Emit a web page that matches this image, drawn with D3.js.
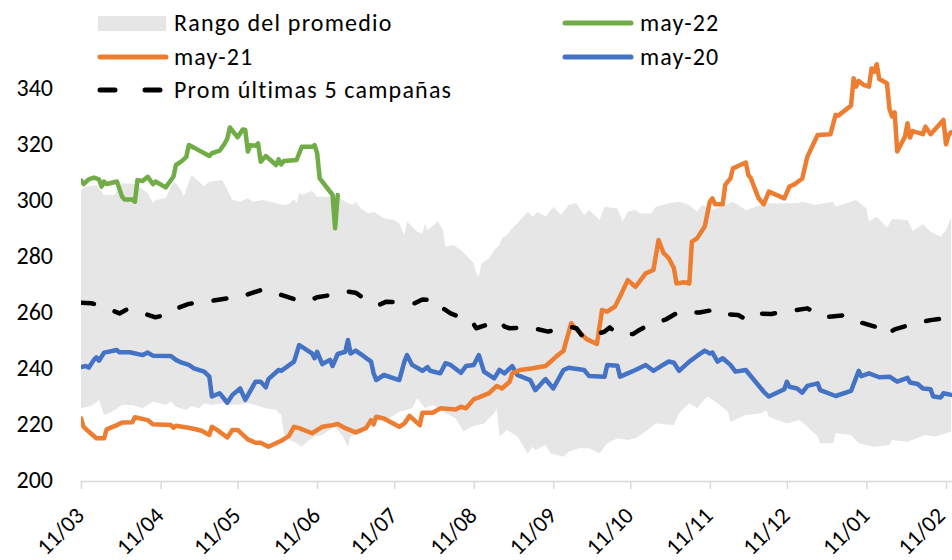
<!DOCTYPE html>
<html>
<head>
<meta charset="utf-8">
<script src="https://cdn.jsdelivr.net/npm/d3@7/dist/d3.min.js"></script>
<style>
body { margin: 0; background: #fff; }
svg text { font-family: Carlito, Calibri, Lato, "Open Sans", sans-serif; fill: #000; }
</style>
</head>
<body>
<svg id="chart" width="952" height="560"></svg>
<script>
// campaign starts 11/03, days are counted from that date
var startDate = "2022-03-11";
var tickLabels = ["11/03", "11/04", "11/05", "11/06", "11/07", "11/08", "11/09", "11/10", "11/11", "11/12", "11/01", "11/02"];
var yTicks = [200, 220, 240, 260, 280, 300, 320, 340];

// Rango del promedio (upper / lower edge of the grey band)
var bandUpDays = [0, 2, 6, 9, 13, 16, 21, 23, 26, 28, 29, 33, 36, 37, 39, 40, 43, 46, 48, 50, 55, 57, 59, 62, 65, 67, 71, 76, 79, 81, 83, 84, 85, 86, 90, 92, 100, 102, 104, 106, 107, 109, 112, 114, 118, 122, 124, 126, 127, 131, 133, 134, 135, 139, 141, 142, 145, 148, 150, 153, 154, 155, 156, 159, 161, 163, 164, 166, 168, 170, 174, 176, 178, 181, 183, 184, 187, 190, 193, 196, 198, 202, 204, 209, 211, 213, 216, 218, 222, 224, 229, 233, 237, 240, 242, 246, 254, 259, 265, 268, 279, 281, 286, 293, 294, 302, 306, 307, 310, 314, 316, 322, 324, 328, 331, 335, 337, 339];
var bandUp = [303.6, 304.8, 305.4, 301.8, 301.8, 306, 305.7, 304.5, 302.4, 298.8, 300, 300.6, 306.5, 306, 303.6, 301.2, 308.9, 306.5, 304.8, 306.5, 307.1, 303.6, 300, 299.4, 300.6, 299.4, 300, 298.8, 298.2, 298.6, 300.2, 298.8, 302.6, 301.8, 303.3, 301.2, 301.2, 300, 298.8, 298.2, 299.4, 297, 295.2, 295.8, 293.5, 292.9, 291.7, 287.5, 292.3, 288.7, 288.1, 291.4, 289.3, 292.3, 289.3, 283.3, 283.9, 282.1, 280.4, 277.4, 273.8, 272.6, 277.4, 279.2, 282.1, 283.9, 286.3, 287.5, 289.9, 291.7, 295.8, 294, 295.8, 294, 296.4, 297.6, 294.6, 298.2, 298.8, 294.6, 296.4, 292.9, 297.6, 297, 292.3, 295.8, 296.4, 295.2, 295.2, 297.6, 298.8, 299.4, 298.2, 295.8, 298.2, 296.4, 299.4, 296.4, 298.2, 298.8, 298.8, 299.4, 298.2, 299.4, 297.6, 300, 297, 292.3, 294, 290.2, 293.2, 292.9, 288.9, 291.4, 288.7, 286.9, 289.3, 293.6];
var bandLowDays = [0, 4, 7, 9, 12, 16, 20, 24, 28, 33, 35, 37, 41, 43, 46, 48, 51, 55, 60, 65, 68, 72, 76, 78, 79, 81, 83, 86, 89, 91, 94, 96, 99, 102, 104, 105, 109, 112, 115, 118, 124, 129, 131, 134, 137, 142, 146, 149, 152, 157, 161, 162, 163, 166, 170, 174, 176, 177, 181, 183, 188, 190, 194, 198, 202, 205, 209, 213, 216, 219, 224, 231, 233, 237, 240, 244, 248, 252, 253, 259, 265, 267, 268, 275, 280, 283, 287, 288, 293, 294, 300, 303, 309, 315, 316, 322, 329, 333, 337, 339];
var bandLow = [225.6, 226.4, 228.6, 223.2, 224.4, 226.8, 226.8, 225.6, 228, 226.8, 228, 226.2, 225, 226.4, 225.6, 227.4, 226.8, 227.4, 226.8, 227.4, 226.8, 225.6, 225, 223.2, 216.7, 214.3, 213.7, 211.9, 214.3, 215.5, 216.1, 217.3, 219, 215.5, 211.9, 215.5, 216.7, 219, 221.4, 220.8, 224.4, 225.6, 229.2, 225.6, 226.8, 223.8, 222, 217.3, 219, 220.2, 223.8, 225.6, 215.5, 217.9, 215.5, 209.5, 211.9, 210.7, 212.5, 209.5, 208.3, 210.1, 211.3, 211.3, 209.5, 213.1, 214.9, 214.3, 214.9, 216.7, 220.2, 219.6, 223.8, 227.4, 225.6, 229.8, 227.4, 224.4, 220.8, 223.2, 223.8, 225, 222.6, 220.2, 221.4, 219, 215.5, 213.1, 213.1, 216.7, 216.1, 213.1, 211.9, 212.5, 214.3, 213.7, 216.1, 215.5, 216.7, 217.3];

// may-22
var greenDays = [0, 1, 3, 5, 7, 8, 9, 10, 14, 16, 17, 20, 21, 22, 24, 26, 28, 29, 33, 36, 37, 39, 41, 42, 44, 50, 51, 54, 56, 57, 58, 61, 63, 64, 65, 66, 68, 69, 70, 72, 76, 77, 78, 79, 84, 86, 90, 91, 92, 93, 96, 98, 99, 100];
var greenVals = [307, 305.7, 307.4, 308, 307.4, 304.8, 306.6, 305.7, 306.6, 301.2, 300.2, 300.2, 299.4, 307.1, 306.8, 308.3, 305.7, 306.6, 304.5, 308.3, 312.5, 313.7, 315.3, 319.6, 318.7, 315.7, 316.7, 317.6, 320.2, 322, 325.9, 322.4, 325.2, 325, 317.3, 319.6, 319.4, 320.2, 313.7, 315.7, 312.5, 314.5, 312.7, 313.9, 314.3, 319, 319, 319.6, 316.7, 307.7, 304.2, 301.8, 289.9, 301.8];

// may-21
var orangeDays = [0, 1, 3, 6, 9, 10, 14, 16, 20, 21, 26, 28, 35, 36, 37, 43, 47, 50, 51, 53, 57, 59, 61, 65, 68, 70, 73, 78, 81, 83, 85, 90, 94, 98, 100, 103, 107, 111, 113, 114, 115, 118, 124, 126, 128, 132, 133, 137, 140, 146, 148, 150, 153, 155, 159, 162, 164, 167, 168, 171, 176, 181, 183, 185, 188, 191, 192, 194, 197, 201, 203, 205, 208, 210, 213, 216, 220, 223, 225, 227, 229, 231, 232, 235, 237, 238, 240, 243, 245, 246, 247, 250, 251, 253, 254, 259, 260, 261, 264, 266, 268, 274, 276, 278, 281, 283, 285, 287, 292, 294, 295, 300, 301, 302, 303, 305, 307, 308, 309, 310, 311, 314, 315, 316, 317, 318, 321, 322, 323, 324, 328, 329, 331, 336, 337, 338, 339];
var orangeVals = [222, 219, 217.3, 214.9, 214.9, 218.1, 219.6, 220.5, 220.6, 222.4, 221.4, 219.9, 219.6, 218.7, 219.4, 218.5, 217.6, 216.1, 219, 217.9, 215.2, 217.9, 217.9, 214.5, 213.3, 213.3, 211.9, 214, 215.8, 219, 218.5, 216.7, 219, 219.6, 220, 218.5, 217, 218.5, 221.4, 219.9, 222.6, 222, 219, 220.2, 222.9, 219.6, 224, 224, 225.6, 225.2, 226.2, 225.6, 228.8, 229.5, 231, 233.6, 232.7, 235.1, 238.1, 239.3, 239.9, 240.7, 242.3, 244, 246.2, 256, 254.8, 253, 250.3, 248.6, 260.7, 260.1, 261.9, 265.5, 271.4, 269, 273.8, 275, 285.7, 281, 279.2, 275.6, 270.2, 270.6, 270.2, 285.1, 286.3, 290.5, 299.4, 300.6, 298.5, 298.5, 305.4, 307.7, 311.3, 313.4, 308.9, 307.7, 300.6, 298.5, 303, 300.6, 304.8, 305.6, 307.7, 315.5, 319.4, 323.2, 323.5, 330.4, 330.1, 333.7, 343.5, 340.5, 342.5, 341.1, 340.5, 347, 345.8, 348.5, 343.2, 341.7, 332.5, 329.8, 331.3, 317.3, 322.6, 327.4, 322.3, 324.6, 323.5, 326.2, 323.5, 328.6, 319.9, 323.2, 324.2];

// may-20
var blueDays = [0, 2, 3, 5, 6, 7, 9, 14, 15, 19, 24, 26, 28, 35, 37, 39, 42, 44, 48, 50, 51, 54, 57, 59, 62, 64, 68, 70, 72, 73, 77, 78, 83, 85, 87, 90, 91, 92, 94, 97, 98, 100, 103, 104, 105, 107, 110, 113, 114, 115, 118, 124, 126, 127, 129, 133, 135, 136, 140, 142, 144, 148, 150, 153, 155, 157, 161, 163, 165, 168, 170, 175, 177, 180, 181, 184, 188, 190, 196, 198, 204, 205, 209, 210, 213, 216, 220, 223, 226, 229, 231, 233, 237, 240, 243, 245, 246, 248, 250, 253, 255, 259, 266, 268, 274, 275, 276, 279, 281, 283, 287, 288, 294, 300, 303, 304, 307, 311, 315, 318, 322, 323, 326, 328, 331, 332, 335, 336, 339];
var blueVals = [240.3, 240.7, 240.1, 242.9, 243.8, 242.6, 245.5, 246.4, 245.6, 245.6, 244.6, 245.5, 244.4, 244.3, 242.9, 242, 241.1, 239.9, 238.7, 236.9, 229.8, 231, 227.6, 230.4, 232.7, 228.6, 235.1, 235.1, 233.1, 236, 239.3, 239, 242.3, 248.2, 247, 245.2, 243.5, 245.8, 241.4, 242.9, 240.7, 245, 245.8, 250, 245.2, 246.2, 244.3, 242.3, 238.1, 235.7, 237.5, 235.7, 242.3, 244.6, 241.1, 239, 240.3, 239, 238.1, 241.7, 241.1, 238.3, 240.7, 241.1, 244.6, 238.7, 236.3, 239.3, 238.1, 240.7, 237.5, 235.7, 232.1, 235.1, 236, 232.7, 239.3, 240.1, 239.3, 237.1, 236.9, 241.1, 240.8, 236.9, 238.1, 239.3, 241.1, 239, 240.7, 242.3, 241.9, 239, 242.3, 244.3, 246.2, 245.2, 245.5, 242.3, 243.5, 241.1, 238.7, 239.3, 231.5, 229.8, 232.4, 235.1, 233.3, 232.7, 231.2, 233.6, 234.5, 232.1, 230, 231.8, 239, 237.1, 238.1, 236.7, 236.9, 235.1, 236.5, 234.8, 234.3, 232.7, 232.4, 229.8, 229.5, 231, 230.4];

// Prom últimas 5 campañas
var avgDays = [0, 4, 7, 15, 18, 21, 29, 33, 35, 42, 45, 49, 57, 59, 63, 71, 74, 78, 85, 89, 92, 100, 104, 107, 113, 116, 119, 126, 130, 133, 139, 141, 144, 149, 152, 154, 163, 165, 167, 175, 182, 190, 193, 196, 204, 206, 209, 215, 217, 220, 228, 233, 241, 246, 248, 256, 259, 262, 269, 274, 283, 289, 298, 304, 313, 314, 317, 325, 331, 339];
var avgVals = [263.3, 263.1, 262.5, 259.5, 261, 260.5, 258.1, 258.9, 260.5, 262.9, 263.3, 263.7, 264.9, 265.5, 265.7, 268.1, 267.3, 266.1, 264, 264, 265.3, 266.4, 267.3, 266.9, 263.1, 262.5, 263.7, 263.3, 263.1, 264.5, 264, 261.3, 259.5, 257.7, 257.1, 254.2, 256.9, 254.8, 254.2, 254.5, 253, 254.8, 254.2, 250.6, 253, 254.5, 252.1, 252.1, 253.3, 254.8, 257.4, 260.1, 259.8, 260.7, 259.5, 258.9, 257.4, 259.5, 259.3, 260.1, 261.3, 258.1, 258.9, 256.2, 253.8, 252.1, 253.8, 256, 257.1, 258];

var svg = d3.select("#chart");
var parse = d3.timeParse("%Y-%m-%d");
var start = parse(startDate);
var toDate = function (d) { return d3.timeDay.offset(start, d); };

// tick dates: months before march belong to the next year
var tickDates = tickLabels.map(function (t) {
    var p = t.split("/");
    var m = +p[1];
    return new Date(m >= 3 ? 2022 : 2023, m - 1, +p[0]);
});

var x = d3.scaleTime()
    .domain([tickDates[0], tickDates[tickDates.length - 1]])
    .range([81, 946]);
var y = d3.scaleLinear()
    .domain([200, 340])
    .range([480, 88]);

svg.append("clipPath").attr("id", "plotClip")
  .append("rect").attr("x", 81).attr("y", 0).attr("width", 871).attr("height", 481);

var plot = svg.append("g").attr("clip-path", "url(#plotClip)");

function pairs(days, vals) {
    return days.map(function (d, i) { return { date: toDate(d), v: vals[i] }; });
}

var line = d3.line()
    .x(function (d) { return x(d.date); })
    .y(function (d) { return y(d.v); });

// grey band: upper edge forward, lower edge back
var bandPts = pairs(bandUpDays, bandUp).concat(pairs(bandLowDays, bandLow).reverse());
plot.append("path")
    .attr("d", line(bandPts) + "Z")
    .attr("fill", "#e6e6e6");

var series = [
    { days: blueDays, vals: blueVals, color: "#4472c4" },
    { days: orangeDays, vals: orangeVals, color: "#ed7d31" },
    { days: greenDays, vals: greenVals, color: "#70ad47" }
];
series.forEach(function (s) {
    plot.append("path")
        .attr("d", line(pairs(s.days, s.vals)))
        .attr("fill", "none")
        .attr("stroke", s.color)
        .attr("stroke-width", 4.5)
        .attr("stroke-linejoin", "round")
        .attr("stroke-linecap", "round");
});

plot.append("path")
    .attr("d", line(pairs(avgDays, avgVals)))
    .attr("fill", "none")
    .attr("stroke", "#000")
    .attr("stroke-width", 4.5)
    .attr("stroke-dasharray", "13,22")
    .attr("stroke-linejoin", "round")
    .attr("stroke-linecap", "round");

// x axis
var xAxis = svg.append("g")
    .attr("transform", "translate(0,481)")
    .call(d3.axisBottom(x).tickValues(tickDates).tickSize(8)
        .tickFormat(function (d, i) { return tickLabels[i]; }));
xAxis.select(".domain").attr("stroke", "#d9d9d9").attr("stroke-width", 1.5).attr("d", "M81,0.5H952");
xAxis.selectAll(".tick line").attr("stroke", "#d9d9d9").attr("stroke-width", 1.5);
xAxis.selectAll(".tick text")
    .attr("font-size", 23)
    .attr("text-anchor", "end")
    .attr("dy", 0)
    .attr("y", 0)
    // last label sits at the right edge, nudge it in a little
    .attr("transform", function (d, i) {
        return (i === tickLabels.length - 1 ? "translate(0,36)" : "translate(4,36)") + " rotate(-45)";
    });

// y labels
svg.append("g").selectAll("text")
    .data(yTicks)
    .join("text")
    .attr("x", 53)
    .attr("y", function (d) { return y(d); })
    .attr("dy", "0.35em")
    .attr("text-anchor", "end")
    .attr("font-size", 24)
    .text(function (d) { return d; });

// legend
var legendItems = [
    { label: "Rango del promedio", type: "area", color: "#e6e6e6", x: 98, y: 23 },
    { label: "may-22", type: "line", color: "#70ad47", x: 563, y: 23 },
    { label: "may-21", type: "line", color: "#ed7d31", x: 98, y: 57 },
    { label: "may-20", type: "line", color: "#4472c4", x: 563, y: 57 },
    { label: "Prom últimas 5 campañas", type: "dash", color: "#000", x: 98, y: 90 }
];
var lg = svg.append("g").selectAll("g").data(legendItems).join("g")
    .attr("transform", function (d) { return "translate(" + d.x + "," + d.y + ")"; });
lg.filter(function (d) { return d.type === "area"; })
    .append("rect").attr("x", 0).attr("y", -7).attr("width", 68).attr("height", 15)
    .attr("fill", function (d) { return d.color; });
lg.filter(function (d) { return d.type !== "area"; })
    .append("line").attr("x1", 2).attr("x2", 68).attr("y1", 0).attr("y2", 0)
    .attr("stroke", function (d) { return d.color; })
    .attr("stroke-width", 5)
    .attr("stroke-linecap", "round")
    .attr("stroke-dasharray", function (d) { return d.type === "dash" ? "15,30" : null; });
lg.append("text")
    .attr("x", function (d) { return d.x > 300 ? 77 : 76; })
    .attr("y", 0)
    .attr("dy", "0.35em")
    .attr("font-size", 24)
    .attr("letter-spacing", 1.2)
    .text(function (d) { return d.label; });
</script>
</body>
</html>
